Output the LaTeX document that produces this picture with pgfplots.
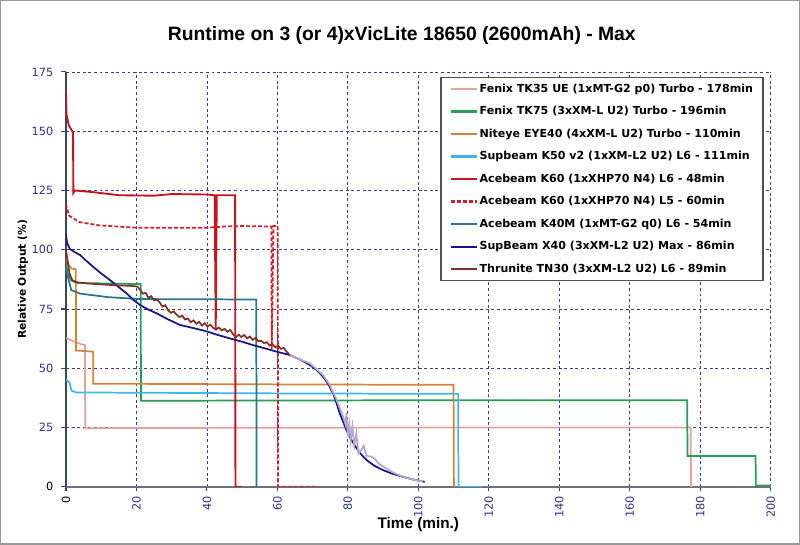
\documentclass[border=0pt]{standalone}
\usepackage{fontspec}
\setmainfont{DejaVu Sans}
\newfontfamily\titlefont{Liberation Sans}
\usepackage{xcolor}
\usepackage{pgfplots}
\pgfplotsset{compat=1.18}

\definecolor{tkpink}{RGB}{228,160,160}
\definecolor{tkgreen}{RGB}{34,160,90}
\definecolor{niteye}{RGB}{210,132,56}
\definecolor{supcyan}{RGB}{60,185,230}
\definecolor{acered}{RGB}{200,20,30}
\definecolor{acedash}{RGB}{210,30,40}
\definecolor{k40teal}{RGB}{40,120,140}
\definecolor{x40navy}{RGB}{20,20,140}
\definecolor{tnbrown}{RGB}{128,50,40}
\definecolor{tnlav}{RGB}{180,166,204}
\definecolor{gridnavy}{RGB}{60,60,140}
\definecolor{ticknavy}{RGB}{50,50,140}
\definecolor{axisgray}{RGB}{110,112,122}
\definecolor{axisdark}{RGB}{60,70,80}
\definecolor{legendgray}{RGB}{80,80,80}
\definecolor{framegray}{RGB}{150,150,150}

\begin{document}
\begin{tikzpicture}
\begin{axis}[
  at={(0,0)}, anchor=south west,
  scale only axis, width=528.75pt, height=311.25pt,
  xmin=0, xmax=200, ymin=0, ymax=175,
  xtick={0,20,...,200}, ytick={0,25,...,175},
  xticklabels={{\color{black}0},20,40,60,80,100,120,140,160,180,200},
  yticklabels={{\color{black}0},25,50,75,100,125,150,175},
  axis x line=bottom, axis y line=left,
  axis line style={-},
  x axis line style={-, draw=axisgray, line width=1.6pt},
  y axis line style={-, draw=axisdark, line width=1pt},
  tick align=outside, major tick length=3.5pt,
  tick style={draw=gridnavy, line width=0.8pt},
  grid=major,
  major grid style={draw=gridnavy, line width=0.6pt, dash pattern=on 2.2pt off 2pt},
  ticklabel style={font=\fontsize{8.5}{10}\selectfont, text=ticknavy},
  yticklabel style={xshift=-2.5pt},
  xticklabel style={rotate=90, anchor=east},
  title={\titlefont\bfseries\fontsize{14.5}{17}\selectfont Runtime on 3 (or 4)xVicLite 18650 (2600mAh) - Max},
  every axis title/.style={at={(axis description cs:0.4766,1.089)}, anchor=center},
  xlabel={\titlefont\bfseries\fontsize{11.5}{13}\selectfont Time (min.)},
  every axis x label/.style={at={(axis description cs:0.5,-0.092)}, anchor=center},
  ylabel={\bfseries\fontsize{8}{10}\selectfont Relative Output (\%)},
  every axis y label/.style={at={(axis description cs:-0.061,0.5)}, rotate=90, anchor=center},
  legend style={
    at={(0.990,0.988)}, anchor=north east,
    draw=legendgray, line width=1pt, fill=white,
    font=\bfseries\fontsize{8.3}{10}\selectfont,
    inner xsep=6.5pt, inner ysep=3pt,
    row sep=5.9pt,
    nodes={inner sep=1pt, text height=7pt, text depth=2pt},
    cells={anchor=west},
  },
  legend image code/.code={\draw[#1, line width=1.6pt] (0pt,0pt) -- (20pt,0pt);},
]

% Fenix TK35 UE Turbo
\addplot[tkpink, line width=1.3pt] coordinates {
 (0,62.7) (2,61.5) (4,60.3) (5.4,59.8) (5.45,24.7) (20,24.8) (100,25) (177.3,25) (177.4,0)
};
\addlegendentry{Fenix TK35 UE (1xMT-G2 p0) Turbo - 178min}

% Fenix TK75 Turbo
\addplot[tkgreen, line width=1.3pt] coordinates {
 (0,95) (0.5,90) (1.5,87) (3,86) (21.2,85.5) (21.3,36.3) (100,36.5) (176.3,36.5) (176.4,13)
 (195.7,13) (195.8,0.5) (200,0.5)
};
\addlegendentry{Fenix TK75 (3xXM-L U2) Turbo - 196min}

% Niteye EYE40 Turbo
\addplot[niteye, line width=1.3pt] coordinates {
 (0,97) (0.6,94) (1.6,92) (2.8,91.8) (2.85,57.5) (7.7,57) (7.75,43.5) (60,43.2) (110,43) (110.1,0)
};
\addlegendentry{Niteye EYE40 (4xXM-L U2) Turbo - 110min}

% Supbeam K50 v2 L6
\addplot[supcyan, line width=1.3pt] coordinates {
 (0,45.3) (1,44) (1.6,40.5) (3,39.8) (60,39.4) (111.3,39.2) (111.4,0) (118,0)
};
\addlegendentry{Supbeam K50 v2 (1xXM-L2 U2) L6 - 111min}

% Acebeam K60 L6
\addplot[acered, line width=1.4pt] coordinates {
 (0,167.5) (0.15,157) (0.8,152.5) (1.6,150.5) (2.0,149.5) (2.1,124) (2.5,125) (7.7,124.3)
 (15,123) (25,122.8) (30,123.5) (40,123.3) (42.2,123) (42.5,66) (42.8,123) (48,123)
 (48.1,0) (49.8,0)
};
\addlegendentry{Acebeam K60 (1xXHP70 N4) L6 - 48min}

% Acebeam K60 L5
\addplot[acedash, line width=1.3pt, dash pattern=on 3pt off 1.5pt] coordinates {
 (0,119.5) (0.8,114.5) (3.7,111.7) (9.3,110.3) (20,109.3) (40,109.3) (45,109.8) (50,110)
 (58.3,109.8) (58.4,58) (58.9,110) (60.1,110) (60.2,0) (70.9,0)
};
\addlegendentry{Acebeam K60 (1xXHP70 N4) L5 - 60min}

% Acebeam K40M L6
\addplot[k40teal, line width=1.3pt] coordinates {
 (0,92) (0.8,87) (1.5,83) (4,81.5) (12,80) (21,79.2) (40,79.1) (54,79) (54.1,0)
};
\addlegendentry{Acebeam K40M (1xMT-G2 q0) L6 - 54min}

% SupBeam X40 Max
\addplot[x40navy, line width=1.3pt] coordinates {
 (0,106.5) (0.3,103) (1.1,100.3) (2.5,99) (4.0,97.8) (5.8,95.3) (7.7,92.8) (10,90)
 (12.5,87.2) (15,84.2) (17.2,81.6) (19,79) (21,76.7) (23.3,74.8) (25.7,73.2) (29,70.6)
 (32.3,68.3) (36,67.0) (39.9,65.6) (43,64.1) (46.5,62.6) (50,61.2) (53,59.8) (56.5,58.4)
 (59.8,57) (63.5,55.6) (66.5,53.6) (69.2,51.4) (71.2,49.2) (73,46.4) (74.5,43.2)
 (75.8,39.4) (76.8,35.2) (77.7,31) (78.7,27.3) (79.6,23.9) (81,19.8) (82.5,16.2) (84,13.3)
 (85.3,11.3) (87.5,8.9) (90,7.0) (92.8,5.4) (95.7,4.2) (98.7,3.0) (101.8,2.1)
};
\addlegendentry{SupBeam X40 (3xXM-L2 U2) Max - 86min}

% Thrunite TN30 L6 (tail drawn in the faded tone of the reference)
\addplot[tnlav, line width=1.3pt, forget plot] coordinates {
 (63.5,55.6) (66,53.9) (69.2,52.1) (71,49.8) (73,47.1) (74.9,42.9) (76.8,36.6) (78.7,29.5)
 (79.3,26.5) (79.6,31) (80.0,21.5) (80.4,26.5) (80.8,19.5) (81.3,25.5) (81.8,17.5) (82.4,22.5)
 (83.0,14) (83.8,15.5) (84.5,17.3) (85.3,13) (86.5,12.8) (87.5,12) (89,9.5) (91,7.6)
 (93,5.9) (95,4.6) (97,3.7) (99,2.9) (101.3,2.3)
};
\addplot[tnbrown, line width=1.3pt] coordinates {
 (0,100) (0.4,96) (1.0,90) (1.8,87.2) (3,86.3) (6,85.8) (10,85.4) (14,85.0) (18,84.8)
 (20.2,84.5) (21.0,83.2) (21.8,81.5) (22.6,81.8) (23.4,79.8) (24.2,80.4) (25.0,78.6)
 (25.8,79.0) (26.6,77.8) (27.4,76.0) (28.2,76.6) (29.0,74.4) (29.8,73.4) (30.6,74.0)
 (31.4,72.6) (32.2,71.6) (33.0,72.2) (33.8,70.6) (34.6,71.0) (35.4,69.4) (36.2,70.2)
 (37.0,68.8) (37.8,69.6) (38.6,68.0) (39.4,69.0) (40.2,67.6) (41.0,68.4) (41.8,67.0)
 (42.6,66.4) (43.4,67.2) (44.2,66.0) (45.0,66.6) (45.8,65.4) (46.6,66.2) (47.4,64.4)
 (48.2,63.0) (49.0,64.2) (49.8,63.2) (50.6,64.0) (51.4,62.6) (52.2,63.4) (53.0,62.0)
 (53.8,62.8) (54.6,61.4) (55.4,61.6) (56.2,60.6) (57.0,61.0) (57.8,59.6) (58.6,60.2)
 (59.4,58.8) (60.2,59.6) (61.0,58.2) (61.8,58.6) (62.6,57.0) (63.5,55.6)
};
\addlegendentry{Thrunite TN30 (3xXM-L2 U2) L6 - 89min}

\end{axis}
\draw[framegray, line width=1pt] (-49pt,-43pt) rectangle (550.25pt,364.75pt);
\end{tikzpicture}
\end{document}
